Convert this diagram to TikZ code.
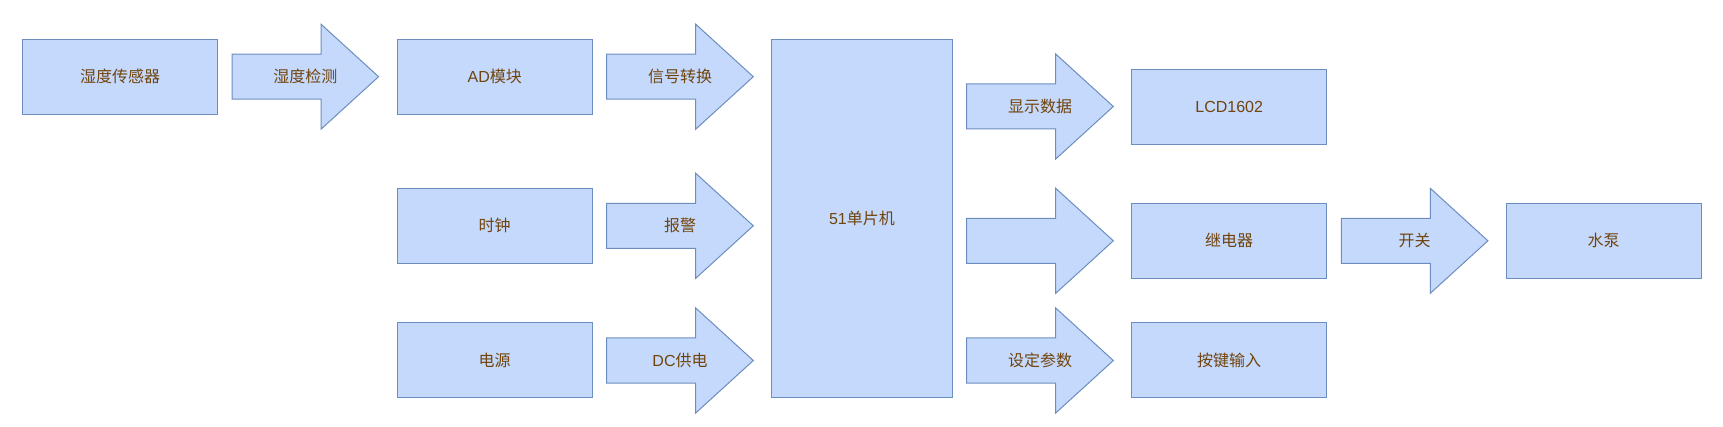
\documentclass[tikz,border=0pt]{standalone}
\usepackage{fontspec}
\setmainfont{Liberation Sans}
\newfontfamily\cjk{Noto Sans CJK SC}
\definecolor{fillc}{HTML}{C5D9FC}
\definecolor{strokec}{HTML}{6C8EBF}
\definecolor{txtc}{HTML}{70440C}
\tikzset{
  blk/.style={draw=strokec, fill=fillc, line width=1pt, inner sep=0pt, text=txtc, font=\fontsize{16}{19}\selectfont},
  barrow/.style={draw=strokec, fill=fillc, line width=1pt, line join=miter},
  txt/.style={inner sep=0pt, text=txtc, font=\fontsize{16}{19}\selectfont}
}
% name, left x, center y, text
\newcommand\barr[4]{%
  \draw[barrow] (#2,#3-22.5) -- (#2+89,#3-22.5) -- (#2+89,#3-52.5) -- (#2+146.6,#3) -- (#2+89,#3+52.5) -- (#2+89,#3+22.5) -- (#2,#3+22.5) -- cycle;
  \node[txt] (#1) at (#2+73.3,#3) {#4};}
\begin{document}
\begin{tikzpicture}[x=1pt,y=-1pt]
\useasboundingbox (0,0) rectangle (1723,427);
% boxes
\node[blk, minimum width=195.4pt, minimum height=75.3pt] (sensor) at (120,76.7) {\cjk 湿度传感器};
\node[blk, minimum width=195.3pt, minimum height=75.3pt] (ad) at (494.7,76.7) {AD{\cjk 模块}};
\node[blk, minimum width=195.3pt, minimum height=75pt] (clock) at (494.7,225.8) {\cjk 时钟};
\node[blk, minimum width=195.3pt, minimum height=75pt] (power) at (494.7,360.2) {\cjk 电源};
\node[blk, minimum width=180.3pt, minimum height=358.7pt] (mcu) at (861.9,218.4) {51{\cjk 单片机}};
\node[blk, minimum width=195pt, minimum height=74.7pt] (lcd) at (1229.2,106.7) {LCD1602};
\node[blk, minimum width=195pt, minimum height=75pt] (relay) at (1229.2,240.8) {\cjk 继电器};
\node[blk, minimum width=195pt, minimum height=75pt] (keys) at (1229.2,360.2) {\cjk 按键输入};
\node[blk, minimum width=195.3pt, minimum height=75pt] (pump) at (1603.7,240.8) {\cjk 水泵};
% block arrows
\barr{a1}{232}{76.7}{\cjk 湿度检测}
\barr{a2}{606.7}{76.7}{\cjk 信号转换}
\barr{a3}{606.7}{225.8}{\cjk 报警}
\barr{a4}{606.7}{360.5}{DC{\cjk 供电}}
\barr{a5}{966.7}{106.5}{\cjk 显示数据}
\barr{a6}{966.7}{240.8}{}
\barr{a7}{1341.3}{240.8}{\cjk 开关}
\barr{a8}{966.7}{360.5}{\cjk 设定参数}
\end{tikzpicture}
\end{document}
